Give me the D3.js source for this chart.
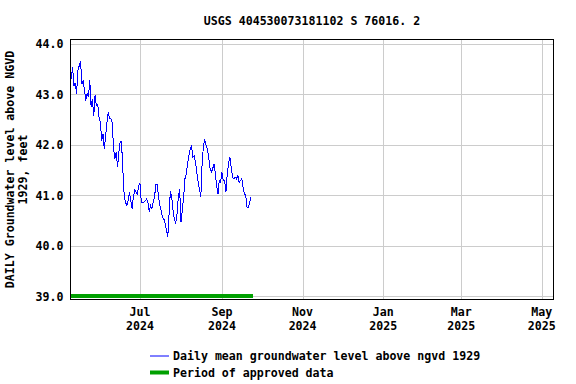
<!DOCTYPE html>
<html>
<head>
<meta charset="utf-8">
<script src="https://cdn.jsdelivr.net/npm/d3@7"></script>
<style>
  html, body { margin: 0; padding: 0; background: #fff; }
  text { font-family: "DejaVu Sans Mono", "Liberation Mono", monospace; font-weight: bold; fill: #000; }
</style>
</head>
<body>
<svg id="chart" width="576" height="384"></svg>
<script>
// ---- data ----
const titleText = "USGS 404530073181102 S 76016. 2";
const yLabelLines = ["DAILY Groundwater level above NGVD", "1929, feet"];
const seriesStart = "2024-05-10";   // first daily value
const dailyValues = [
  43.30, 43.53, 43.15, 43.22, 43.00, 43.46, 43.56, 43.66, 43.20, 43.27,
  43.07, 42.87, 43.02, 42.94, 43.27, 42.74, 42.90, 42.57, 42.97, 42.77,
  42.80, 42.54, 42.44, 42.08, 42.21, 41.91, 42.18, 42.44, 42.64, 42.51,
  42.51, 42.44, 41.91, 41.72, 41.85, 41.55, 41.85, 42.05, 42.05, 41.52,
  41.00, 40.86, 40.79, 40.89, 41.06, 40.89, 40.73, 40.96, 41.10, 41.06,
  41.02, 41.19, 41.23, 40.86, 40.86, 40.86, 40.89, 40.92, 40.86, 40.66,
  40.79, 40.73, 40.86, 40.96, 41.21, 41.21, 40.96, 40.79, 40.69, 40.56,
  40.53, 40.43, 40.30, 40.17, 40.63, 41.08, 40.96, 40.69, 40.53, 40.43,
  40.63, 40.96, 41.12, 40.46, 40.69, 40.96, 41.32, 41.42, 41.62, 41.78,
  41.91, 41.98, 41.75, 41.78, 41.65, 41.45, 41.25, 41.12, 40.96, 41.62,
  41.98, 42.08, 41.98, 41.91, 41.75, 41.52, 41.45, 41.52, 41.62, 41.42,
  41.19, 41.02, 41.29, 41.25, 41.45, 41.29, 41.29, 41.06, 41.42, 41.62,
  41.75, 41.55, 41.35, 41.32, 41.35, 41.32, 41.39, 41.25, 41.29, 41.32,
  41.15, 41.02, 40.99, 40.76, 40.76, 40.86, 40.96
];
const approvedPeriod = ["2024-05-09", "2024-09-24"];
const xDomain = ["2024-05-09T10:00", "2025-05-09T20:00"];
const yDomain = [39, 44];
const yTicks = [39, 40, 41, 42, 43, 44];
const xTickDates = ["2024-07-01", "2024-09-01", "2024-11-01", "2025-01-01", "2025-03-01", "2025-05-01"];
const xTickLabels = [["Jul", "2024"], ["Sep", "2024"], ["Nov", "2024"], ["Jan", "2025"], ["Mar", "2025"], ["May", "2025"]];
const legendItems = [
  { label: "Daily mean groundwater level above ngvd 1929", kind: "line" },
  { label: "Period of approved data", kind: "bar" }
];

// ---- layout ----
const plot = { left: 70.5, right: 553.5, top: 39.5, bottom: 299.5 };
const parse = s => new Date(s);
const startDate = parse(seriesStart + "T00:00");
const series = dailyValues.map((v, i) => ({ date: d3.timeDay.offset(startDate, i), value: v }));

const x = d3.scaleTime().domain(xDomain.map(parse)).range([plot.left, plot.right]);
const y = d3.scaleLinear().domain(yDomain).range([296, 43.5]);

const svg = d3.select("#chart");
const FS = 11.6;

// title
svg.append("text").attr("x", (plot.left + plot.right) / 2).attr("y", 20.5)
  .attr("text-anchor", "middle").attr("dominant-baseline", "central")
  .style("font-size", FS + "px").text(titleText);

// grid
const grid = svg.append("g");
grid.selectAll("line.h").data(yTicks).join("line")
  .attr("x1", plot.left).attr("x2", plot.right)
  .attr("y1", d => Math.round(y(d)) + 0.5).attr("y2", d => Math.round(y(d)) + 0.5)
  .attr("stroke", "#cccccc").attr("stroke-width", 1);
grid.selectAll("line.v").data(xTickDates.map(d => parse(d + "T00:00"))).join("line")
  .attr("y1", plot.top).attr("y2", plot.bottom)
  .attr("x1", d => Math.round(x(d)) + 0.5).attr("x2", d => Math.round(x(d)) + 0.5)
  .attr("stroke", "#cccccc").attr("stroke-width", 1);

// approved bar
svg.append("line")
  .attr("x1", x(parse(approvedPeriod[0] + "T10:00"))).attr("x2", x(parse(approvedPeriod[1] + "T12:00")))
  .attr("y1", y(39)).attr("y2", y(39))
  .attr("stroke", "#00a000").attr("stroke-width", 4);

// series line
svg.append("path").datum(series)
  .attr("fill", "none").attr("stroke", "#0000ff").attr("stroke-width", 1)
  .attr("shape-rendering", "crispEdges")
  .attr("d", d3.line().x(d => x(d.date)).y(d => y(d.value)));

// border
svg.append("rect").attr("x", plot.left).attr("y", plot.top)
  .attr("width", plot.right - plot.left).attr("height", plot.bottom - plot.top)
  .attr("fill", "none").attr("stroke", "#000").attr("stroke-width", 1);

// y tick labels
svg.selectAll("text.yt").data(yTicks).join("text")
  .attr("x", 63.5).attr("y", d => y(d) + 0.5)
  .attr("text-anchor", "end").attr("dominant-baseline", "central")
  .style("font-size", FS + "px").text(d => d.toFixed(1));

// x tick labels
const xt = svg.selectAll("g.xt").data(xTickDates).join("g")
  .attr("transform", d => `translate(${x(parse(d + "T00:00"))},0)`);
xt.append("text").attr("y", 312).attr("text-anchor", "middle").attr("dominant-baseline", "central")
  .style("font-size", FS + "px").text((d, i) => xTickLabels[i][0]);
xt.append("text").attr("y", 326).attr("text-anchor", "middle").attr("dominant-baseline", "central")
  .style("font-size", FS + "px").text((d, i) => xTickLabels[i][1]);

// y axis label
const yl = svg.append("text").attr("transform", `translate(0,${(plot.top + plot.bottom) / 2}) rotate(-90)`)
  .attr("text-anchor", "middle").style("font-size", FS + "px");
yl.append("tspan").attr("x", 0).attr("y", 10).attr("dominant-baseline", "central").text(yLabelLines[0]);
yl.append("tspan").attr("x", 0).attr("y", 22.5).attr("dominant-baseline", "central").text(yLabelLines[1]);

// legend
const lg = svg.selectAll("g.lg").data(legendItems).join("g")
  .attr("transform", (d, i) => `translate(0,${356 + i * 16.5})`);
lg.append("line").attr("x1", 150).attr("x2", 169).attr("y1", 0).attr("y2", 0)
  .attr("stroke", d => d.kind === "line" ? "#0000ff" : "#00a000")
  .attr("stroke-width", d => d.kind === "line" ? 1 : 4);
lg.append("text").attr("x", 173).attr("y", 0).attr("dominant-baseline", "central")
  .style("font-size", FS + "px").text(d => d.label);
</script>
</body>
</html>
